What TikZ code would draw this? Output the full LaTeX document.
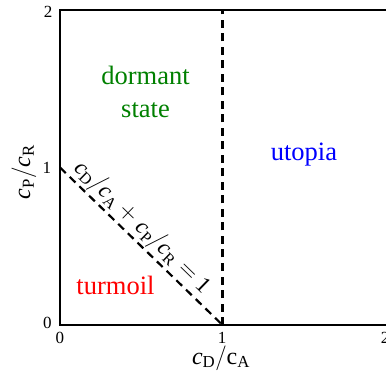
\documentclass[tikz,border=0pt]{standalone}
\usepackage{fontspec}
\setmainfont{Liberation Serif}
\newfontfamily\tnr{Liberation Serif}
\definecolor{dgreen}{rgb}{0,0.5,0}
\begin{document}
\begin{tikzpicture}[x=162.5pt,y=157.5pt,
  frame/.style={line width=1.4pt},
  bound/.style={line width=2.2pt, dash pattern=on 8pt off 5.5pt},
  tick/.style={font=\tnr\fontsize{17}{20}\selectfont, inner sep=0pt},
  region/.style={font=\tnr\fontsize{26.5}{33}\selectfont, align=center, inner sep=0pt},
  axlab/.style={font=\tnr\fontsize{24}{28}\selectfont, inner sep=0pt},
  eqlab/.style={font=\tnr\fontsize{23}{28}\selectfont, inner sep=0pt}]
\useasboundingbox (-60pt,-45pt) rectangle (326pt,325pt);
\coordinate (O) at (0,0);
\coordinate (Y1) at (0,1);
\coordinate (Y2) at (0,2);
\coordinate (X1) at (1,0);
\coordinate (X2) at (326pt,0pt);
\coordinate (T1) at (1,2);
\coordinate (T2) at (326pt,315pt);
\draw[frame] (T2) -- (Y2) -- (O) -- (X2);
\draw[bound] (Y1) -- (X1);
\draw[bound] (X1) -- (T1);
\node[tick] (t0y) at (-12.5pt,2pt) {0};
\node[tick] (t1y) at (-13pt,157pt) {1};
\node[tick] (t2y) at (-12pt,313pt) {2};
\node[tick] (t0x) at (0pt,-12.5pt) {0};
\node[tick] (t1x) at (162pt,-12.5pt) {1};
\node[tick] (t2x) at (325pt,-12.5pt) {2};
\node[region, text=dgreen] (dorm) at (85.5pt,233.5pt) {dormant\\state};
\node[region, text=blue] (utop) at (244pt,170pt) {utopia};
\node[region, text=red] (turm) at (55.5pt,40pt) {turmoil};
\node[axlab, rotate=90] (ylab) at (-36pt,153pt) {$\mathit{c}_{\mathrm{P}}/\mathit{c}_{\mathrm{R}}$};
\node[axlab] (xlab) at (161pt,-33pt) {$\mathit{c}_{\mathrm{D}}/\mathrm{c}_{\mathrm{A}}$};
\node[eqlab, rotate=-44.1] (eq) at (82.5pt,97.5pt) {$\mathit{c}_{\mathrm{D}}/\mathit{c}_{\mathrm{A}}+\mathit{c}_{\mathrm{P}}/\mathit{c}_{\mathrm{R}}=\mathrm{1}$};
\end{tikzpicture}
\end{document}
